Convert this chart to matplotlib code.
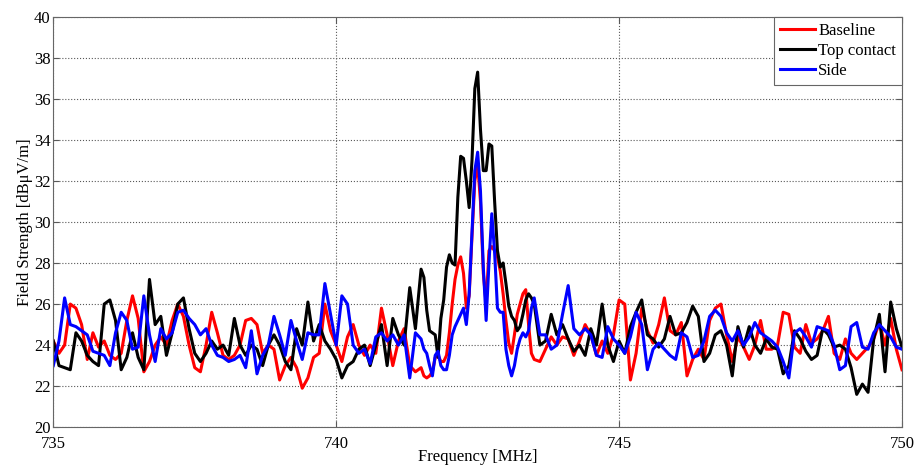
import numpy as np
import matplotlib
matplotlib.use("Agg")
import matplotlib.pyplot as plt

# frequency grid [MHz]: 0.1 MHz steps, finer (0.05) around the peak
freq = np.concatenate([735 + 0.1 * np.arange(65),
                       741.5 + 0.05 * np.arange(40),
                       743.5 + 0.1 * np.arange(66)])

baseline = [
    24.2, 23.6, 24.0, 26.0, 25.8, 25.0, 23.3, 24.6, 23.9, 24.2,
    23.5, 23.3, 23.6, 25.2, 26.4, 25.3, 22.7, 23.2, 24.0, 24.4,
    24.0, 25.2, 26.0, 25.4, 24.0, 22.9, 22.7, 24.0, 25.6, 24.6,
    23.5, 23.3, 23.5, 24.0, 25.2, 25.3, 25.0, 23.6, 24.0, 23.8,
    22.3, 23.0, 23.4, 22.9, 21.9, 22.4, 23.4,
    23.6, 26.0, 24.7, 24.0, 23.2, 24.4, 25.0, 24.0, 23.5, 24.0,
    23.6, 25.8, 24.5, 23.0, 24.2, 24.8, 23.0, 22.7,
    # 741.5 - 743.45 (0.05 step)
    22.9, 22.5, 22.4, 22.5, 22.7, 23.4, 23.5, 23.2, 23.2, 23.5,
    24.6, 26.0, 27.2, 27.9, 28.3, 27.5, 25.8, 26.4, 29.3, 32.0,
    32.8, 31.0, 27.5, 26.0, 28.6, 28.8, 28.6, 28.3, 27.6, 26.5,
    25.2, 24.1, 23.6, 24.5, 25.5, 26.0, 26.5, 26.7, 25.0, 23.6,
    # 743.5 - 750
    23.3, 23.2, 23.8, 24.4, 24.0, 24.4, 24.3, 23.5, 24.2, 25.0, 24.5, 23.5,
    24.2, 23.6, 24.5, 26.2, 26.0, 22.3, 23.6, 25.8, 24.7, 24.1,
    25.0, 26.3, 24.7, 24.5, 25.1, 22.5, 23.3, 23.8, 23.3, 25.2,
    25.8, 26.0, 24.5, 23.2, 24.4, 23.9, 23.3, 24.0, 25.2, 23.8,
    23.8, 24.0, 25.6, 25.5, 23.9, 23.6, 25.0, 24.1, 24.3, 24.7,
    25.4, 23.6, 23.3, 24.3, 23.6, 23.3, 23.6, 23.9, 24.3, 25.1,
    24.0, 25.3, 23.8, 22.8,
]

top_contact = [
    24.2, 23.0, 22.9, 22.8, 24.6, 24.2, 23.5, 23.2, 23.0, 26.0,
    26.2, 25.2, 22.8, 23.4, 24.6, 23.4, 22.8, 27.2, 25.0, 25.4,
    23.5, 24.6, 26.0, 26.3, 24.8, 23.6, 23.2, 23.6, 24.2, 23.8,
    24.0, 23.5, 25.3, 24.0, 23.5, 24.0, 23.8, 23.0, 24.0, 24.5,
    24.0, 23.2, 22.8, 24.8, 24.0, 26.1, 24.2,
    25.0, 24.2, 23.8, 23.3, 22.4, 23.0, 23.2, 23.8, 24.0, 23.0,
    24.0, 25.0, 23.0, 25.3, 24.5, 24.0, 26.8, 24.8,
    27.7, 27.3, 25.7, 24.7, 24.6, 24.5, 23.4, 25.3, 26.2, 27.8,
    28.4, 28.0, 27.9, 31.2, 33.2, 33.1, 32.0, 30.7, 33.0, 36.5,
    37.3, 34.5, 32.5, 32.5, 33.8, 33.7, 31.0, 28.6, 27.8, 28.0,
    27.0, 25.9, 25.4, 25.2, 24.7, 24.9, 25.5, 26.2, 26.5, 26.3,
    26.0, 24.0, 24.2, 25.5, 24.5, 25.0, 24.3, 23.7, 24.0, 23.5, 24.8, 24.0,
    26.0, 24.0, 23.2, 24.2, 23.6, 24.9, 25.6, 26.2, 24.5, 24.3,
    23.9, 24.3, 25.4, 24.5, 24.6, 25.1, 25.9, 25.4, 23.2, 23.6,
    24.5, 24.7, 24.0, 22.5, 24.9, 23.9, 24.9, 24.0, 23.6, 24.3,
    23.9, 23.8, 22.6, 23.0, 24.7, 24.3, 23.7, 23.3, 23.5, 24.8,
    24.5, 23.9, 24.0, 23.8, 22.9, 21.6, 22.1, 21.7, 24.3, 25.5,
    22.7, 26.1, 24.8, 23.9,
]

side = [
    23.0, 24.2, 26.3, 25.0, 24.9, 24.7, 24.5, 23.7, 23.6, 23.5,
    23.0, 24.6, 25.6, 25.2, 23.8, 23.9, 26.4, 24.5, 23.2, 24.8,
    24.3, 24.6, 25.6, 25.7, 25.3, 25.0, 24.5, 24.8, 24.0, 23.5,
    23.4, 23.2, 23.3, 23.5, 22.9, 24.7, 22.6, 23.5, 24.0, 25.4,
    24.5, 23.5, 25.2, 24.2, 23.3, 24.6, 24.5,
    24.5, 27.0, 25.5, 24.0, 26.4, 26.0, 24.0, 23.6, 23.8, 23.1,
    24.4, 24.6, 24.2, 24.5, 24.0, 24.5, 22.4, 24.6,
    24.3, 23.8, 23.6, 23.0, 22.5, 23.5, 23.7, 23.0, 22.8, 22.8,
    23.5, 24.5, 24.9, 25.2, 25.5, 25.8, 25.0, 26.5, 29.5, 32.5,
    33.4, 31.5, 27.8, 25.2, 28.0, 30.4, 28.5, 25.8, 25.6, 25.6,
    23.8, 23.0, 22.5, 23.0, 23.8, 24.3, 24.6, 24.4, 24.7, 25.8,
    26.3, 24.5, 24.5, 23.8, 24.0, 25.5, 26.9, 24.8, 24.5, 24.8, 24.5, 23.5,
    23.4, 24.9, 24.3, 24.0, 23.6, 24.4, 25.6, 25.0, 22.8, 23.8,
    24.1, 23.8, 23.5, 23.3, 24.6, 24.4, 23.4, 23.5, 24.2, 25.4,
    25.7, 25.4, 24.6, 24.2, 24.7, 24.0, 24.4, 25.1, 24.6, 24.4,
    24.2, 23.9, 23.2, 22.4, 24.6, 24.8, 24.4, 23.9, 24.9, 24.8,
    24.7, 24.0, 22.8, 23.0, 24.9, 25.1, 23.9, 23.8, 24.6, 25.0,
    24.7, 24.4, 23.9, 23.8,
]

plt.rcParams['font.family'] = ['Liberation Serif', 'DejaVu Serif']
plt.rcParams['font.size'] = 12

fig = plt.figure(figsize=(9.19, 4.71), dpi=100)
ax = fig.add_axes([0.058, 0.093, 0.9235, 0.8715])

ax.plot(freq, baseline, color='#ff0000', lw=2.2, label='Baseline')
ax.plot(freq, top_contact, color='black', lw=2.2, label='Top contact')
ax.plot(freq, side, color='#0000ff', lw=2.2, label='Side')

ax.set_xlim(735, 750)
ax.set_ylim(20, 40)
ax.set_xticks([735, 740, 745, 750])
ax.set_yticks(np.arange(20, 41, 2))
ax.grid(True, linestyle=':', color='0.35', linewidth=0.8)
ax.tick_params(direction='in', top=True, right=True, length=4, color='0.35')
ax.tick_params(axis='x', pad=6)
ax.tick_params(axis='y', pad=2)
for s in ax.spines.values():
    s.set_color('0.4')

ax.set_xlabel('Frequency [MHz]', labelpad=-2)
ax.set_ylabel('Field Strength [dB\u03bcV/m]', labelpad=1)

leg = ax.legend(loc='upper right', fancybox=False, framealpha=1, borderaxespad=0,
                handlelength=2.1, handletextpad=0.2, borderpad=0.35, labelspacing=0.25)
leg.get_frame().set_edgecolor('0.4')
leg.get_frame().set_linewidth(0.8)

fig.savefig('out.png', dpi=100)
